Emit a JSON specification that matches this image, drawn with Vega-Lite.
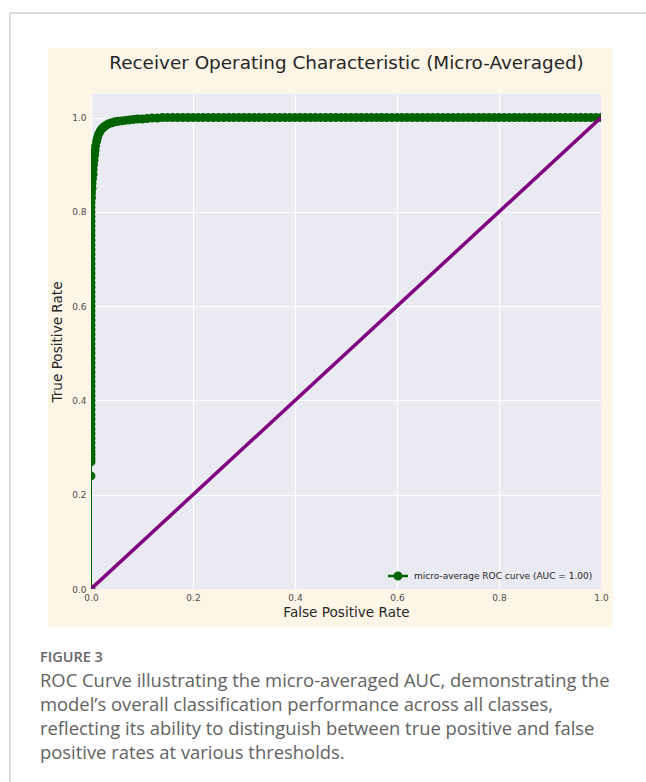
{
  "$schema": "https://vega.github.io/schema/vega-lite/v6.json",
  "autosize": {"type": "none"},
  "width": 510,
  "height": 495,
  "padding": {"left": 91, "top": 94, "right": 45, "bottom": 193},
  "background": "white",
  "title": {
    "text": "FIGURE 3",
    "subtitle": [
      "ROC Curve illustrating the micro-averaged AUC, demonstrating the",
      "model’s overall classification performance across all classes,",
      "reflecting its ability to distinguish between true positive and false",
      "positive rates at various thresholds."
    ],
    "orient": "bottom",
    "anchor": "start",
    "frame": "group",
    "dx": -51,
    "offset": -132,
    "font": "Open Sans",
    "fontSize": 14.5,
    "fontWeight": 600,
    "color": "#666666",
    "subtitleFont": "Open Sans",
    "subtitleFontSize": 18.4,
    "subtitleFontWeight": "normal",
    "subtitleColor": "#626262",
    "subtitleLineHeight": 24,
    "subtitlePadding": 6.4
  },
  "config": {
    "view": {"fill": "#EAEAF2", "stroke": null}
  },
  "datasets": {
    "roc": [
      {"fpr": 0, "tpr": 0},
      {"fpr": 0, "tpr": 0.24},
      {"fpr": 0, "tpr": 0.27},
      {"fpr": 0, "tpr": 0.277},
      {"fpr": 0, "tpr": 0.285},
      {"fpr": 0, "tpr": 0.292},
      {"fpr": 0, "tpr": 0.30},
      {"fpr": 0, "tpr": 0.31},
      {"fpr": 0, "tpr": 0.32},
      {"fpr": 0, "tpr": 0.33},
      {"fpr": 0, "tpr": 0.34},
      {"fpr": 0, "tpr": 0.35},
      {"fpr": 0, "tpr": 0.36},
      {"fpr": 0, "tpr": 0.37},
      {"fpr": 0, "tpr": 0.38},
      {"fpr": 0, "tpr": 0.39},
      {"fpr": 0, "tpr": 0.40},
      {"fpr": 0, "tpr": 0.41},
      {"fpr": 0, "tpr": 0.42},
      {"fpr": 0, "tpr": 0.43},
      {"fpr": 0, "tpr": 0.44},
      {"fpr": 0, "tpr": 0.45},
      {"fpr": 0, "tpr": 0.46},
      {"fpr": 0, "tpr": 0.47},
      {"fpr": 0, "tpr": 0.48},
      {"fpr": 0, "tpr": 0.49},
      {"fpr": 0, "tpr": 0.50},
      {"fpr": 0, "tpr": 0.51},
      {"fpr": 0, "tpr": 0.52},
      {"fpr": 0, "tpr": 0.53},
      {"fpr": 0, "tpr": 0.54},
      {"fpr": 0, "tpr": 0.55},
      {"fpr": 0, "tpr": 0.56},
      {"fpr": 0, "tpr": 0.57},
      {"fpr": 0, "tpr": 0.58},
      {"fpr": 0, "tpr": 0.59},
      {"fpr": 0, "tpr": 0.60},
      {"fpr": 0, "tpr": 0.61},
      {"fpr": 0, "tpr": 0.62},
      {"fpr": 0, "tpr": 0.63},
      {"fpr": 0, "tpr": 0.64},
      {"fpr": 0, "tpr": 0.65},
      {"fpr": 0, "tpr": 0.66},
      {"fpr": 0, "tpr": 0.67},
      {"fpr": 0, "tpr": 0.68},
      {"fpr": 0, "tpr": 0.69},
      {"fpr": 0, "tpr": 0.70},
      {"fpr": 0, "tpr": 0.71},
      {"fpr": 0, "tpr": 0.72},
      {"fpr": 0, "tpr": 0.73},
      {"fpr": 0, "tpr": 0.74},
      {"fpr": 0, "tpr": 0.75},
      {"fpr": 0, "tpr": 0.76},
      {"fpr": 0, "tpr": 0.77},
      {"fpr": 0, "tpr": 0.78},
      {"fpr": 0, "tpr": 0.79},
      {"fpr": 0, "tpr": 0.80},
      {"fpr": 0, "tpr": 0.81},
      {"fpr": 0, "tpr": 0.82},
      {"fpr": 0.001, "tpr": 0.83},
      {"fpr": 0.001, "tpr": 0.84},
      {"fpr": 0.002, "tpr": 0.85},
      {"fpr": 0.002, "tpr": 0.86},
      {"fpr": 0.003, "tpr": 0.87},
      {"fpr": 0.004, "tpr": 0.88},
      {"fpr": 0.004, "tpr": 0.89},
      {"fpr": 0.005, "tpr": 0.90},
      {"fpr": 0.006, "tpr": 0.91},
      {"fpr": 0.007, "tpr": 0.92},
      {"fpr": 0.008, "tpr": 0.93},
      {"fpr": 0.009, "tpr": 0.94},
      {"fpr": 0.011, "tpr": 0.95},
      {"fpr": 0.013, "tpr": 0.958},
      {"fpr": 0.015, "tpr": 0.965},
      {"fpr": 0.018, "tpr": 0.971},
      {"fpr": 0.021, "tpr": 0.976},
      {"fpr": 0.025, "tpr": 0.98},
      {"fpr": 0.03, "tpr": 0.984},
      {"fpr": 0.035, "tpr": 0.987},
      {"fpr": 0.041, "tpr": 0.989},
      {"fpr": 0.047, "tpr": 0.991},
      {"fpr": 0.053, "tpr": 0.992},
      {"fpr": 0.06, "tpr": 0.993},
      {"fpr": 0.067, "tpr": 0.994},
      {"fpr": 0.075, "tpr": 0.995},
      {"fpr": 0.083, "tpr": 0.996},
      {"fpr": 0.091, "tpr": 0.997},
      {"fpr": 0.10, "tpr": 0.997},
      {"fpr": 0.11, "tpr": 0.998},
      {"fpr": 0.12, "tpr": 0.999},
      {"fpr": 0.13, "tpr": 0.999},
      {"fpr": 0.14, "tpr": 1.0},
      {"fpr": 0.15, "tpr": 1.0},
      {"fpr": 0.16, "tpr": 1.0},
      {"fpr": 0.17, "tpr": 1.0},
      {"fpr": 0.18, "tpr": 1.0},
      {"fpr": 0.19, "tpr": 1.0},
      {"fpr": 0.20, "tpr": 1.0},
      {"fpr": 0.21, "tpr": 1.0},
      {"fpr": 0.22, "tpr": 1.0},
      {"fpr": 0.23, "tpr": 1.0},
      {"fpr": 0.24, "tpr": 1.0},
      {"fpr": 0.25, "tpr": 1.0},
      {"fpr": 0.26, "tpr": 1.0},
      {"fpr": 0.27, "tpr": 1.0},
      {"fpr": 0.28, "tpr": 1.0},
      {"fpr": 0.29, "tpr": 1.0},
      {"fpr": 0.30, "tpr": 1.0},
      {"fpr": 0.31, "tpr": 1.0},
      {"fpr": 0.32, "tpr": 1.0},
      {"fpr": 0.33, "tpr": 1.0},
      {"fpr": 0.34, "tpr": 1.0},
      {"fpr": 0.35, "tpr": 1.0},
      {"fpr": 0.36, "tpr": 1.0},
      {"fpr": 0.37, "tpr": 1.0},
      {"fpr": 0.38, "tpr": 1.0},
      {"fpr": 0.39, "tpr": 1.0},
      {"fpr": 0.40, "tpr": 1.0},
      {"fpr": 0.41, "tpr": 1.0},
      {"fpr": 0.42, "tpr": 1.0},
      {"fpr": 0.43, "tpr": 1.0},
      {"fpr": 0.44, "tpr": 1.0},
      {"fpr": 0.45, "tpr": 1.0},
      {"fpr": 0.46, "tpr": 1.0},
      {"fpr": 0.47, "tpr": 1.0},
      {"fpr": 0.48, "tpr": 1.0},
      {"fpr": 0.49, "tpr": 1.0},
      {"fpr": 0.50, "tpr": 1.0},
      {"fpr": 0.51, "tpr": 1.0},
      {"fpr": 0.52, "tpr": 1.0},
      {"fpr": 0.53, "tpr": 1.0},
      {"fpr": 0.54, "tpr": 1.0},
      {"fpr": 0.55, "tpr": 1.0},
      {"fpr": 0.56, "tpr": 1.0},
      {"fpr": 0.57, "tpr": 1.0},
      {"fpr": 0.58, "tpr": 1.0},
      {"fpr": 0.59, "tpr": 1.0},
      {"fpr": 0.60, "tpr": 1.0},
      {"fpr": 0.61, "tpr": 1.0},
      {"fpr": 0.62, "tpr": 1.0},
      {"fpr": 0.63, "tpr": 1.0},
      {"fpr": 0.64, "tpr": 1.0},
      {"fpr": 0.65, "tpr": 1.0},
      {"fpr": 0.66, "tpr": 1.0},
      {"fpr": 0.67, "tpr": 1.0},
      {"fpr": 0.68, "tpr": 1.0},
      {"fpr": 0.69, "tpr": 1.0},
      {"fpr": 0.70, "tpr": 1.0},
      {"fpr": 0.71, "tpr": 1.0},
      {"fpr": 0.72, "tpr": 1.0},
      {"fpr": 0.73, "tpr": 1.0},
      {"fpr": 0.74, "tpr": 1.0},
      {"fpr": 0.75, "tpr": 1.0},
      {"fpr": 0.76, "tpr": 1.0},
      {"fpr": 0.77, "tpr": 1.0},
      {"fpr": 0.78, "tpr": 1.0},
      {"fpr": 0.79, "tpr": 1.0},
      {"fpr": 0.80, "tpr": 1.0},
      {"fpr": 0.81, "tpr": 1.0},
      {"fpr": 0.82, "tpr": 1.0},
      {"fpr": 0.83, "tpr": 1.0},
      {"fpr": 0.84, "tpr": 1.0},
      {"fpr": 0.85, "tpr": 1.0},
      {"fpr": 0.86, "tpr": 1.0},
      {"fpr": 0.87, "tpr": 1.0},
      {"fpr": 0.88, "tpr": 1.0},
      {"fpr": 0.89, "tpr": 1.0},
      {"fpr": 0.90, "tpr": 1.0},
      {"fpr": 0.91, "tpr": 1.0},
      {"fpr": 0.92, "tpr": 1.0},
      {"fpr": 0.93, "tpr": 1.0},
      {"fpr": 0.94, "tpr": 1.0},
      {"fpr": 0.95, "tpr": 1.0},
      {"fpr": 0.96, "tpr": 1.0},
      {"fpr": 0.97, "tpr": 1.0},
      {"fpr": 0.98, "tpr": 1.0},
      {"fpr": 0.99, "tpr": 1.0},
      {"fpr": 1.0, "tpr": 1.0}
    ],
    "chance": [
      {"fpr": 0, "tpr": 0},
      {"fpr": 1, "tpr": 1}
    ]
  },
  "resolve": {"axis": {"x": "independent", "y": "independent"}},
  "layer": [
    {
      "data": {"values": [{}]},
      "mark": {"type": "rect", "color": "#FDF5E6"},
      "encoding": {
        "x": {"datum": -0.0843, "type": "quantitative", "scale": {"domain": [0, 1], "nice": false, "zero": false},
          "axis": {"orient": "top", "title": "Receiver Operating Characteristic (Micro-Averaged)", "labels": false, "ticks": false, "domain": false, "grid": false, "zindex": 1,
            "titleFont": "DejaVu Sans", "titleFontSize": 18.4, "titleFontWeight": "normal", "titleColor": "#262626", "titlePadding": 21.5}},
        "x2": {"datum": 1.0235},
        "y": {"datum": 1.05, "type": "quantitative", "scale": {"domain": [0, 1.05], "nice": false, "zero": false}, "axis": null},
        "y2": {"datum": 1.1476}
      }
    },
    {
      "data": {"values": [{}]},
      "mark": {"type": "rect", "color": "#FDF5E6"},
      "encoding": {
        "x": {"datum": -0.0843, "type": "quantitative", "scale": {"domain": [0, 1], "nice": false, "zero": false}, "axis": null},
        "x2": {"datum": 1.0235},
        "y": {"datum": -0.0806, "type": "quantitative", "scale": {"domain": [0, 1.05], "nice": false, "zero": false}, "axis": null},
        "y2": {"datum": 0}
      }
    },
    {
      "data": {"values": [{}]},
      "mark": {"type": "rect", "color": "#FDF5E6"},
      "encoding": {
        "x": {"datum": -0.0843, "type": "quantitative", "scale": {"domain": [0, 1], "nice": false, "zero": false}, "axis": null},
        "x2": {"datum": 0},
        "y": {"datum": -0.0806, "type": "quantitative", "scale": {"domain": [0, 1.05], "nice": false, "zero": false}, "axis": null},
        "y2": {"datum": 1.1476}
      }
    },
    {
      "data": {"values": [{}]},
      "mark": {"type": "rect", "color": "#FDF5E6"},
      "encoding": {
        "x": {"datum": 1, "type": "quantitative", "scale": {"domain": [0, 1], "nice": false, "zero": false}, "axis": null},
        "x2": {"datum": 1.0235},
        "y": {"datum": -0.0806, "type": "quantitative", "scale": {"domain": [0, 1.05], "nice": false, "zero": false}, "axis": null},
        "y2": {"datum": 1.1476}
      }
    },
    {
      "data": {"values": [{}]},
      "mark": {"type": "rule", "color": "#cfcfcf", "strokeWidth": 1.5},
      "encoding": {
        "x": {"datum": -0.1588, "type": "quantitative", "scale": {"domain": [0, 1], "nice": false, "zero": false}, "axis": null},
        "x2": {"datum": 1.0882},
        "y": {"datum": 1.2218, "type": "quantitative", "scale": {"domain": [0, 1.05], "nice": false, "zero": false}, "axis": null}
      }
    },
    {
      "data": {"values": [{}]},
      "mark": {"type": "rule", "color": "#cfcfcf", "strokeWidth": 1.5},
      "encoding": {
        "x": {"datum": -0.1588, "type": "quantitative", "scale": {"domain": [0, 1], "nice": false, "zero": false}, "axis": null},
        "y": {"datum": 1.2218, "type": "quantitative", "scale": {"domain": [0, 1.05], "nice": false, "zero": false}, "axis": null},
        "y2": {"datum": -0.4094}
      }
    },
    {
      "data": {"name": "roc"},
      "mark": {"type": "line", "color": "#006400", "strokeWidth": 2, "clip": true},
      "encoding": {
        "x": {"field": "fpr", "type": "quantitative", "scale": {"domain": [0, 1], "nice": false, "zero": false},
          "axis": {"grid": true, "gridColor": "#ffffff", "gridWidth": 1.2, "labels": false, "ticks": false, "domain": false, "title": null, "values": [0, 0.2, 0.4, 0.6, 0.8, 1.0], "zindex": 0}},
        "y": {"field": "tpr", "type": "quantitative", "scale": {"domain": [0, 1.05], "nice": false, "zero": false},
          "axis": {"grid": true, "gridColor": "#ffffff", "gridWidth": 1.2, "labels": false, "ticks": false, "domain": false, "title": null, "values": [0, 0.2, 0.4, 0.6, 0.8, 1.0], "zindex": 0}},
        "order": {"value": null}
      }
    },
    {
      "data": {"name": "roc"},
      "mark": {"type": "point", "filled": true, "size": 80, "opacity": 1, "strokeWidth": 0, "clip": true},
      "encoding": {
        "x": {"field": "fpr", "type": "quantitative", "scale": {"domain": [0, 1], "nice": false, "zero": false}, "axis": null},
        "y": {"field": "tpr", "type": "quantitative", "scale": {"domain": [0, 1.05], "nice": false, "zero": false}, "axis": null},
        "color": {"datum": "micro-average ROC curve (AUC = 1.00)", "type": "nominal", "scale": {"range": ["#006400"]},
          "legend": {"title": null, "orient": "bottom-right", "offset": 8, "padding": 0,
            "symbolType": "M-2,-0.25L2,-0.25L2,0.25L-2,0.25Z M0.9,0A0.9,0.9,0,1,1,-0.9,0A0.9,0.9,0,1,1,0.9,0Z",
            "symbolSize": 100, "symbolFillColor": "#006400", "symbolStrokeWidth": 0, "symbolOpacity": 1,
            "labelFont": "DejaVu Sans", "labelFontSize": 9, "labelColor": "#262626", "labelOffset": 11, "labelLimit": 300}}
      }
    },
    {
      "data": {"name": "chance"},
      "mark": {"type": "line", "color": "#800080", "strokeWidth": 3.5, "clip": true},
      "encoding": {
        "x": {"field": "fpr", "type": "quantitative", "scale": {"domain": [0, 1], "nice": false, "zero": false},
          "axis": {"orient": "bottom", "title": "False Positive Rate", "grid": false, "ticks": false, "domain": false, "values": [0, 0.2, 0.4, 0.6, 0.8, 1.0], "format": ".1f",
            "labelFont": "DejaVu Sans", "labelFontSize": 9, "labelColor": "#4d4d4d", "labelPadding": 4, "labelFlush": false, "labelOverlap": false,
            "titleFont": "DejaVu Sans", "titleFontSize": 13.6, "titleFontWeight": "normal", "titleColor": "#262626", "titlePadding": 3.5, "zindex": 1}},
        "y": {"field": "tpr", "type": "quantitative", "scale": {"domain": [0, 1.05], "nice": false, "zero": false},
          "axis": {"orient": "left", "title": "True Positive Rate", "grid": false, "ticks": false, "domain": false, "values": [0, 0.2, 0.4, 0.6, 0.8, 1.0], "format": ".1f",
            "labelFont": "DejaVu Sans", "labelFontSize": 9, "labelColor": "#4d4d4d", "labelPadding": 5, "labelFlush": false, "labelOverlap": false,
            "titleFont": "DejaVu Sans", "titleFontSize": 13.6, "titleFontWeight": "normal", "titleColor": "#262626", "titlePadding": 7, "zindex": 1}}
      }
    }
  ]
}
